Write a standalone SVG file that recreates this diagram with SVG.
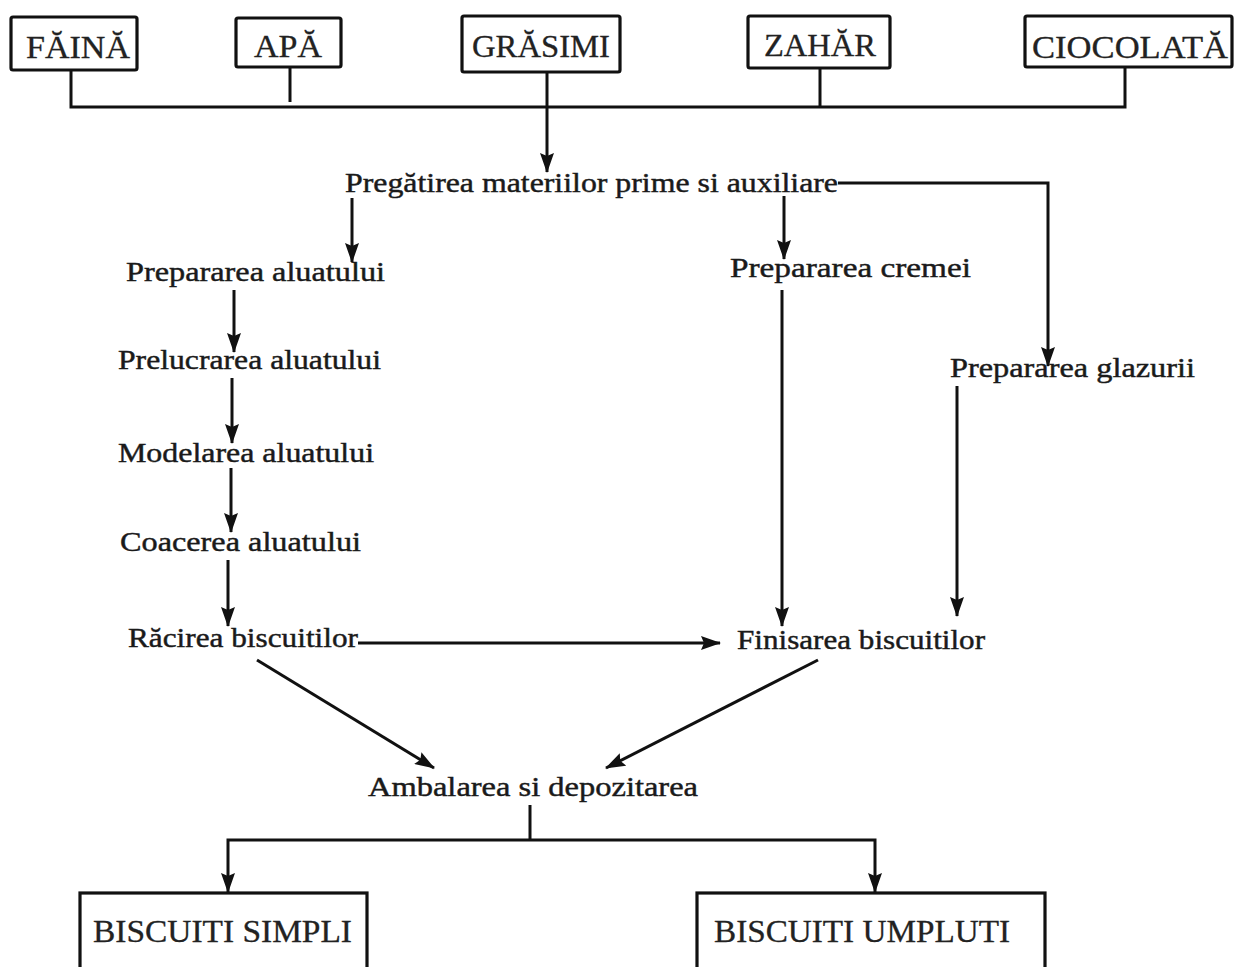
<svg xmlns="http://www.w3.org/2000/svg" width="1234" height="967" viewBox="0 0 1234 967">
  <defs>
    <marker id="arrow" markerUnits="userSpaceOnUse" markerWidth="20" markerHeight="14" viewBox="0 0 20 14" refX="19" refY="7" orient="auto">
      <path d="M0,0 L20,7 L0,14 L3,7 Z" fill="#111"/>
    </marker>
    <style>
      .box { fill: #fff; stroke: #111; stroke-width: 3.2; }
      .cap { font-family: "Liberation Serif", "Times New Roman", serif; font-size: 31px; fill: #222; stroke: #222; stroke-width: 0.3; }
      .lbl { font-family: "Liberation Serif", "Times New Roman", serif; font-size: 28px; fill: #1a1a1a; stroke: #1a1a1a; stroke-width: 0.45; }
      .wire { fill: none; stroke: #111; stroke-width: 3; }
      .link { fill: none; stroke: #111; stroke-width: 3; marker-end: url(#arrow); }
    </style>
  </defs>
  <rect width="1234" height="967" fill="#fff"/>

  <!-- connectors -->
  <g id="connectors">
    <path class="wire" d="M71,70 V107 H1125 V67"/>
    <path class="wire" d="M290,67 V102"/>
    <path class="wire" d="M820,67 V107"/>
    <path class="link" d="M547,72 V172"/>
    <path class="link" d="M352,198 V262"/>
    <path class="link" d="M784,196 V259"/>
    <path class="link" d="M838,183 H1048 V366"/>
    <path class="link" d="M234,290 V352"/>
    <path class="link" d="M232,378 V443"/>
    <path class="link" d="M231,468 V532"/>
    <path class="link" d="M228,560 V626"/>
    <path class="link" d="M782,290 V626"/>
    <path class="link" d="M957,386 V616"/>
    <path class="link" d="M358,643 H720"/>
    <path class="link" d="M257,660 L434,768"/>
    <path class="link" d="M818,660 L606,768"/>
    <path class="wire" d="M530,805 V840"/>
    <path class="link" d="M530,840 H228 V892"/>
    <path class="link" d="M530,840 H875 V892"/>
  </g>

  <!-- raw materials -->
  <g id="faina"><rect class="box" x="11" y="17" width="126" height="53" rx="2"/><text class="cap" x="26" y="58" textLength="104" lengthAdjust="spacingAndGlyphs">FĂINĂ</text></g>
  <g id="apa"><rect class="box" x="236" y="18" width="105" height="49" rx="2"/><text class="cap" x="254" y="57" textLength="68" lengthAdjust="spacingAndGlyphs">APĂ</text></g>
  <g id="grasimi"><rect class="box" x="462" y="16" width="158" height="56" rx="2"/><text class="cap" x="472" y="57" textLength="138" lengthAdjust="spacingAndGlyphs">GRĂSIMI</text></g>
  <g id="zahar"><rect class="box" x="748" y="16" width="142" height="52" rx="2"/><text class="cap" x="764" y="56" textLength="112" lengthAdjust="spacingAndGlyphs">ZAHĂR</text></g>
  <g id="ciocolata"><rect class="box" x="1025" y="16" width="207" height="51" rx="2"/><text class="cap" x="1032" y="58" textLength="196" lengthAdjust="spacingAndGlyphs">CIOCOLATĂ</text></g>

  <!-- process steps -->
  <g id="pregatire"><text class="lbl" x="345" y="192" textLength="493" lengthAdjust="spacingAndGlyphs">Pregătirea materiilor prime si  auxiliare</text></g>
  <g id="preparare-aluat"><text class="lbl" x="126" y="281" textLength="259" lengthAdjust="spacingAndGlyphs">Prepararea aluatului</text></g>
  <g id="prelucrare-aluat"><text class="lbl" x="118" y="369" textLength="263" lengthAdjust="spacingAndGlyphs">Prelucrarea aluatului</text></g>
  <g id="modelare-aluat"><text class="lbl" x="118" y="462" textLength="256" lengthAdjust="spacingAndGlyphs">Modelarea aluatului</text></g>
  <g id="coacere-aluat"><text class="lbl" x="120" y="551" textLength="241" lengthAdjust="spacingAndGlyphs">Coacerea aluatului</text></g>
  <g id="racire"><text class="lbl" x="128" y="647" textLength="230" lengthAdjust="spacingAndGlyphs">Răcirea biscuitilor</text></g>
  <g id="preparare-crema"><text class="lbl" x="730" y="277" textLength="241" lengthAdjust="spacingAndGlyphs">Prepararea cremei</text></g>
  <g id="preparare-glazura"><text class="lbl" x="950" y="377" textLength="245" lengthAdjust="spacingAndGlyphs">Prepararea glazurii</text></g>
  <g id="finisare"><text class="lbl" x="737" y="649" textLength="248" lengthAdjust="spacingAndGlyphs">Finisarea biscuitilor</text></g>
  <g id="ambalare"><text class="lbl" x="368" y="796" textLength="330" lengthAdjust="spacingAndGlyphs">Ambalarea si depozitarea</text></g>

  <!-- products -->
  <g id="biscuiti-simpli"><rect class="box" x="80" y="893" width="287" height="90"/><text class="cap" x="93" y="942" textLength="259" lengthAdjust="spacingAndGlyphs">BISCUITI SIMPLI</text></g>
  <g id="biscuiti-umpluti"><rect class="box" x="697" y="893" width="348" height="90"/><text class="cap" x="714" y="942" textLength="296" lengthAdjust="spacingAndGlyphs">BISCUITI UMPLUTI</text></g>
</svg>
